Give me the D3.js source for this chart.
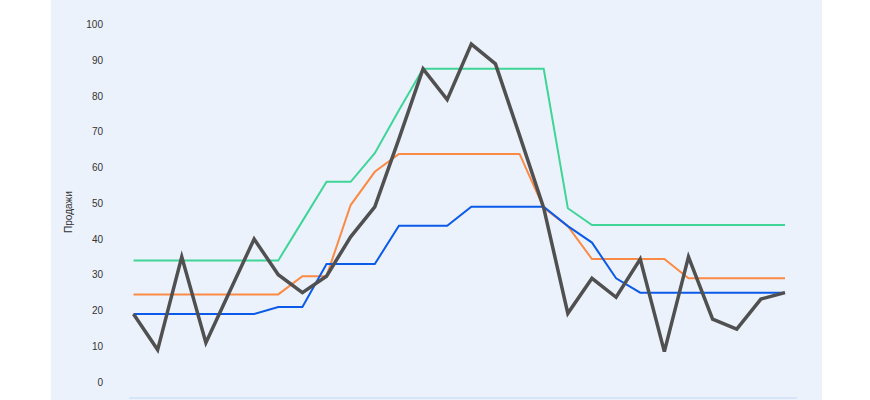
<!DOCTYPE html>
<html>
<head>
<meta charset="utf-8">
<script src="https://cdn.jsdelivr.net/npm/d3@7"></script>
<style>
  body { margin: 0; background: #ffffff; }
  svg { display: block; }
</style>
</head>
<body>
<svg id="canvas" width="870" height="400"></svg>
<script>
// sales and three smoothed series, one value per period
let periods = d3.range(28)
let sales = [19, 9, 35, 11, 25.5, 40, 30, 25, 29.6, 40.6, 49, 68, 87.6, 79, 94.5, 89, 69, 48.7, 19.2, 29, 23.7, 34.4, 8.5, 35, 17.6, 14.8, 23.2, 25]
let greenLine = [34, 34, 34, 34, 34, 34, 34, 45, 56, 56, 64, 76, 87.6, 87.6, 87.6, 87.6, 87.6, 87.6, 48.6, 43.9, 43.9, 43.9, 43.9, 43.9, 43.9, 43.9, 43.9, 43.9]
let orangeLine = [24.5, 24.5, 24.5, 24.5, 24.5, 24.5, 24.5, 29.6, 29.6, 49.5, 58.8, 63.8, 63.8, 63.8, 63.8, 63.8, 63.8, 48.7, 43.6, 34.4, 34.4, 34.4, 34.4, 29, 29, 29, 29, 29]
let blueLine = [19, 19, 19, 19, 19, 19, 21, 21, 33, 33, 33, 43.7, 43.7, 43.7, 49, 49, 49, 49, 43.6, 39, 29, 25, 25, 25, 25, 25, 25, 25]
let yTicks = [0, 10, 20, 30, 40, 50, 60, 70, 80, 90, 100]

let canvas = d3.select("#canvas")

let x = d3.scaleLinear().domain([0, 27]).range([133.5, 785])
let y = d3.scaleLinear().domain([0, 100]).range([382, 24.5])

// panel background
canvas.append("rect")
  .attr("x", 51)
  .attr("y", 0)
  .attr("width", 771)
  .attr("height", 400)
  .attr("fill", "#ecf2fc")

// x axis baseline
canvas.append("line")
  .attr("x1", x(-0.18))
  .attr("x2", x(27.5))
  .attr("y1", 398)
  .attr("y2", 398)
  .attr("stroke", "#cfe0f8")
  .attr("stroke-width", 1.5)

// y axis labels
let yAxis = canvas.append("g")
  .attr("transform", "translate(106,0)")
  .call(d3.axisLeft(y).tickValues(yTicks).tickSize(0).tickPadding(3))
yAxis.select(".domain").remove()
yAxis.selectAll("text")
  .attr("fill", "#333")
  .style("font-family", "'Liberation Sans', Arial, sans-serif")
  .style("font-size", "10px")

canvas.append("text")
  .attr("transform", "translate(72,212) rotate(-90)")
  .attr("text-anchor", "middle")
  .attr("fill", "#333")
  .style("font-family", "'Liberation Sans', Arial, sans-serif")
  .style("font-size", "10px")
  .text("Продажи")

let line = d3.line()
  .x((d, i) => x(periods[i]))
  .y(d => y(d))

let series = [
  { values: greenLine, color: "#3fd597", width: 2 },
  { values: orangeLine, color: "#fb8a44", width: 2 },
  { values: blueLine, color: "#0b5be8", width: 2 },
  { values: sales, color: "#505050", width: 3.5 }
]

canvas.selectAll("path.series")
  .data(series)
  .enter()
  .append("path")
  .attr("class", "series")
  .attr("fill", "none")
  .attr("stroke", d => d.color)
  .attr("stroke-width", d => d.width)
  .attr("d", d => line(d.values))
</script>
</body>
</html>
